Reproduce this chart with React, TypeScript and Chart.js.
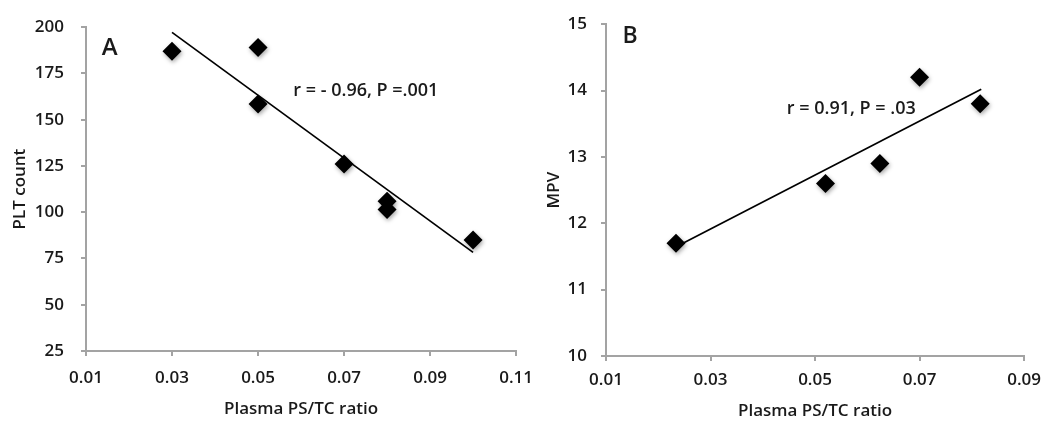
import React, { useEffect, useRef } from "react";
import { Chart, registerables } from "chart.js";

Chart.register(...registerables);

// ---- Panel A data ----
const aX = [0.03, 0.05, 0.05, 0.07, 0.08, 0.08, 0.1];
const aY = [187, 189, 158.5, 126, 106, 101.5, 85];
const aTrendX = [0.03, 0.1];
const aTrendY = [197.2, 78.3];
const aXTicks = [0.01, 0.03, 0.05, 0.07, 0.09, 0.11];
const aYTicks = [25, 50, 75, 100, 125, 150, 175, 200];

// ---- Panel B data ----
const bX = [0.0234, 0.052, 0.0624, 0.07, 0.0816];
const bY = [11.7, 12.6, 12.9, 14.2, 13.8];
const bTrendX = [0.0238, 0.0818];
const bTrendY = [11.66, 14.02];
const bXTicks = [0.01, 0.03, 0.05, 0.07, 0.09];
const bYTicks = [10, 11, 12, 13, 14, 15];

const FONT = "'Open Sans', 'Noto Sans', sans-serif";
const WEIGHT = "600";
const TEXT = "#1a1a1a";
const AXIS = "#a3a3a3";

const textPlugin = {
  id: "textLabels",
  afterDraw(chart: any, _args: any, opts: any) {
    const items = (opts && opts.items) || [];
    const ctx = chart.ctx;
    const xs = chart.scales.x;
    const ys = chart.scales.y;
    ctx.save();
    for (const it of items) {
      ctx.font = `${WEIGHT} ${it.size}px ${FONT}`;
      ctx.fillStyle = TEXT;
      ctx.textAlign = it.align || "left";
      ctx.textBaseline = "middle";
      ctx.fillText(it.text, xs.getPixelForValue(it.x), ys.getPixelForValue(it.y));
    }
    ctx.restore();
  },
};

const shadowPlugin = {
  id: "markerShadow",
  beforeDatasetDraw(chart: any, args: any) {
    if (args.index !== 1) return;
    const ctx = chart.ctx;
    ctx.save();
    ctx.shadowColor = "rgba(0,0,0,0.35)";
    ctx.shadowBlur = 4;
    ctx.shadowOffsetX = 1;
    ctx.shadowOffsetY = 2;
  },
  afterDatasetDraw(chart: any, args: any) {
    if (args.index !== 1) return;
    chart.ctx.restore();
  },
};

type PanelProps = {
  left: number;
  width: number;
  xs: number[];
  ys: number[];
  tx: number[];
  ty: number[];
  xTicks: number[];
  yTicks: number[];
  yTitle: string;
  padTop: number;
  padRight: number;
  yAxisW: number;
  xAxisH: number;
  yTitlePad: number;
  xTitlePad: number;
  xTickPad: number;
  yTickPad: number;
  labels: any[];
};

function Panel(p: PanelProps) {
  const ref = useRef<HTMLCanvasElement | null>(null);
  useEffect(() => {
    if (!ref.current) return;
    const tickFont = { family: FONT, size: 17, weight: WEIGHT };
    const titleFont = { family: FONT, size: 17, lineHeight: 1, weight: WEIGHT };
    const chart = new Chart(ref.current, {
      type: "scatter",
      data: {
        datasets: [
          {
            type: "scatter",
            data: p.tx.map((x, i) => ({ x, y: p.ty[i] })),
            showLine: true,
            borderColor: "#000",
            borderWidth: 1.7,
            pointRadius: 0,
            fill: false,
          } as any,
          {
            type: "scatter",
            data: p.xs.map((x, i) => ({ x, y: p.ys[i] })),
            pointStyle: "rectRot",
            pointRadius: 9.5,
            backgroundColor: "#000",
            borderColor: "#000",
            borderWidth: 0,
          } as any,
        ],
      },
      options: {
        animation: false,
        responsive: false,
        layout: { padding: { top: p.padTop, right: p.padRight, left: 0, bottom: 0 } },
        plugins: {
          legend: { display: false },
          tooltip: { enabled: false },
          textLabels: { items: p.labels },
        } as any,
        scales: {
          x: {
            type: "linear",
            min: p.xTicks[0],
            max: p.xTicks[p.xTicks.length - 1],
            afterBuildTicks: (s: any) => {
              s.ticks = p.xTicks.map((v) => ({ value: v }));
            },
            afterFit: (s: any) => {
              s.height = p.xAxisH;
            },
            ticks: {
              font: tickFont,
              color: TEXT,
              padding: p.xTickPad,
              maxRotation: 0,
              callback: (v: any) => Number(v).toFixed(2),
            },
            grid: {
              drawOnChartArea: false,
              drawTicks: true,
              tickLength: 5,
              color: AXIS,
              lineWidth: 2,
            },
            border: { color: AXIS, width: 2 },
            title: {
              display: true,
              text: "Plasma PS/TC ratio",
              font: titleFont,
              color: TEXT,
              padding: { top: 0, bottom: p.xTitlePad },
            },
          },
          y: {
            type: "linear",
            min: p.yTicks[0],
            max: p.yTicks[p.yTicks.length - 1],
            afterBuildTicks: (s: any) => {
              s.ticks = p.yTicks.map((v) => ({ value: v }));
            },
            afterFit: (s: any) => {
              s.width = p.yAxisW;
            },
            ticks: { font: tickFont, color: TEXT, padding: p.yTickPad },
            grid: {
              drawOnChartArea: false,
              drawTicks: true,
              tickLength: 5,
              color: AXIS,
              lineWidth: 2,
            },
            border: { color: AXIS, width: 2 },
            title: {
              display: true,
              text: p.yTitle,
              font: titleFont,
              color: TEXT,
              padding: { top: p.yTitlePad, bottom: 0 },
            },
          },
        },
      } as any,
      plugins: [textPlugin, shadowPlugin],
    });
    return () => chart.destroy();
  }, []);
  return (
    <canvas
      ref={ref}
      width={p.width}
      height={429}
      style={{ position: "absolute", left: p.left, top: 0, width: p.width, height: 429 }}
    />
  );
}

export default function App() {
  return (
    <div style={{ position: "absolute", left: 0, top: 0, width: 1050, height: 429, background: "#fff" }}>
      <Panel
        left={0}
        width={545}
        xs={aX}
        ys={aY}
        tx={aTrendX}
        ty={aTrendY}
        xTicks={aXTicks}
        yTicks={aYTicks}
        yTitle="PLT count"
        padTop={14}
        padRight={20}
        yAxisW={86}
        xAxisH={78}
        yTitlePad={12}
        xTitlePad={11}
        xTickPad={12}
        yTickPad={17}
        labels={[
          { text: "A", x: 0.0155, y: 188.5, size: 24, align: "center" },
          { text: "r = - 0.96, P =.001", x: 0.0582, y: 165.6, size: 18 },
        ]}
      />
      <Panel
        left={545}
        width={505}
        xs={bX}
        ys={bY}
        tx={bTrendX}
        ty={bTrendY}
        xTicks={bXTicks}
        yTicks={bYTicks}
        yTitle="MPV"
        padTop={9}
        padRight={25}
        yAxisW={61}
        xAxisH={73}
        yTitlePad={0.5}
        xTitlePad={9}
        xTickPad={9}
        yTickPad={14}
        labels={[
          { text: "B", x: 0.0146, y: 14.82, size: 23, align: "center" },
          { text: "r = 0.91, P = .03", x: 0.0446, y: 13.72, size: 18 },
        ]}
      />
    </div>
  );
}
